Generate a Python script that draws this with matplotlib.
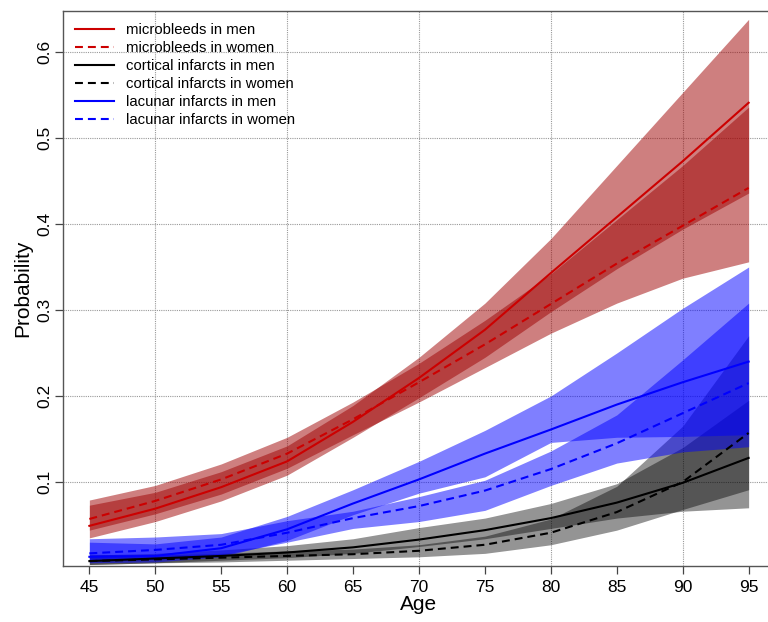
import matplotlib
matplotlib.use("Agg")
import matplotlib.pyplot as plt
import numpy as np

plt.rcParams['font.family'] = ['Liberation Sans', 'DejaVu Sans']

ages = [45, 50, 55, 60, 65, 70, 75, 80, 85, 90, 95]

# microbleeds
mb_men = [0.049, 0.069, 0.094, 0.124, 0.170, 0.221, 0.277, 0.343, 0.408, 0.473, 0.541]
mb_men_lo = [0.035, 0.054, 0.078, 0.108, 0.152, 0.198, 0.245, 0.298, 0.348, 0.394, 0.436]
mb_men_hi = [0.073, 0.088, 0.112, 0.142, 0.189, 0.245, 0.308, 0.383, 0.468, 0.553, 0.638]
mb_women = [0.057, 0.078, 0.103, 0.133, 0.173, 0.216, 0.260, 0.307, 0.354, 0.398, 0.442]
mb_women_lo = [0.044, 0.063, 0.086, 0.116, 0.155, 0.193, 0.233, 0.273, 0.308, 0.337, 0.356]
mb_women_hi = [0.079, 0.096, 0.121, 0.152, 0.193, 0.238, 0.288, 0.342, 0.405, 0.468, 0.536]

# cortical infarcts
ci_men = [0.008, 0.011, 0.014, 0.018, 0.024, 0.033, 0.044, 0.058, 0.076, 0.099, 0.128]
ci_men_lo = [0.004, 0.006, 0.009, 0.012, 0.017, 0.025, 0.034, 0.046, 0.058, 0.066, 0.070]
ci_men_hi = [0.015, 0.017, 0.021, 0.026, 0.034, 0.047, 0.058, 0.075, 0.098, 0.140, 0.195]
ci_women = [0.008, 0.010, 0.012, 0.014, 0.016, 0.020, 0.027, 0.041, 0.065, 0.100, 0.157]
ci_women_lo = [0.004, 0.006, 0.007, 0.009, 0.011, 0.013, 0.017, 0.027, 0.044, 0.068, 0.091]
ci_women_hi = [0.016, 0.015, 0.017, 0.020, 0.022, 0.027, 0.037, 0.057, 0.095, 0.165, 0.270]

# lacunar infarcts
li_men = [0.013, 0.014, 0.023, 0.045, 0.075, 0.103, 0.133, 0.161, 0.190, 0.216, 0.240]
li_men_lo = [0.006, 0.007, 0.013, 0.032, 0.062, 0.087, 0.106, 0.146, 0.152, 0.153, 0.155]
li_men_hi = [0.030, 0.028, 0.036, 0.060, 0.091, 0.124, 0.160, 0.200, 0.250, 0.302, 0.350]
li_women = [0.017, 0.021, 0.027, 0.041, 0.058, 0.072, 0.090, 0.115, 0.145, 0.180, 0.215]
li_women_lo = [0.008, 0.010, 0.015, 0.030, 0.046, 0.054, 0.067, 0.096, 0.122, 0.135, 0.141]
li_women_hi = [0.034, 0.036, 0.040, 0.055, 0.066, 0.083, 0.102, 0.136, 0.178, 0.242, 0.308]

labels = ["microbleeds in men", "microbleeds in women",
          "cortical infarcts in men", "cortical infarcts in women",
          "lacunar infarcts in men", "lacunar infarcts in women"]

x_ticks = [45, 50, 55, 60, 65, 70, 75, 80, 85, 90, 95]
y_ticks = [0.1, 0.2, 0.3, 0.4, 0.5, 0.6]
grid_x = [50, 60, 70, 80, 90]
grid_y = [0.1, 0.2, 0.3, 0.4, 0.5, 0.6]

fig = plt.figure(figsize=(7.68, 6.22), dpi=100)
ax = fig.add_axes([63/768, 1 - 566/622, (775 - 63)/768, (566 - 11)/622])

red_fill = (0.62, 0.0, 0.0)
blue_fill = (0.0, 0.0, 1.0)
black_fill = (0.0, 0.0, 0.0)

for gx in grid_x:
    ax.axvline(gx, color='#999999', lw=0.8, ls=(0, (1, 1)), zorder=0)
for gy in grid_y:
    ax.axhline(gy, color='#999999', lw=0.8, ls=(0, (1, 1)), zorder=0)

ax.fill_between(ages, mb_men_lo, mb_men_hi, color=red_fill, alpha=0.5, lw=0)
ax.fill_between(ages, mb_women_lo, mb_women_hi, color=red_fill, alpha=0.5, lw=0)
ax.fill_between(ages, ci_men_lo, ci_men_hi, color=black_fill, alpha=0.42, lw=0)
ax.fill_between(ages, ci_women_lo, ci_women_hi, color=black_fill, alpha=0.42, lw=0)
ax.fill_between(ages, li_men_lo, li_men_hi, color=blue_fill, alpha=0.5, lw=0)
ax.fill_between(ages, li_women_lo, li_women_hi, color=blue_fill, alpha=0.5, lw=0)

dash = (0, (3.8, 2.4))
lw = 1.5
ax.plot(ages, mb_men, color='#cc0000', lw=lw, label=labels[0])
ax.plot(ages, mb_women, color='#cc0000', lw=lw, ls=dash, label=labels[1])
ax.plot(ages, ci_men, color='black', lw=lw, label=labels[2])
ax.plot(ages, ci_women, color='black', lw=lw, ls=dash, label=labels[3])
ax.plot(ages, li_men, color='#0000ff', lw=lw, label=labels[4])
ax.plot(ages, li_women, color='#0000ff', lw=lw, ls=dash, label=labels[5])

ax.set_xlim(43, 97)
ax.set_ylim(0.0023, 0.6477)
ax.set_xticks(x_ticks)
ax.set_xticklabels([str(t) for t in x_ticks])
ax.set_yticks(y_ticks)
ax.set_yticklabels([str(t) for t in y_ticks], rotation=90, va='center')
ax.tick_params(axis='both', direction='out', length=6, width=0.9, color='#444444',
               labelsize=12.5, pad=4)
ax.tick_params(axis='y', pad=2)
for s in ax.spines.values():
    s.set_color('#555555')
    s.set_linewidth(1.0)

ax.set_xlabel("Age", fontsize=15, labelpad=0)
ax.set_ylabel("Probability", fontsize=15, labelpad=3)

leg = ax.legend(loc='upper left', bbox_to_anchor=(0.0, 1.0), frameon=False,
                fontsize=10.7, handlelength=2.6, handletextpad=0.85,
                labelspacing=0.27, borderaxespad=0.5, borderpad=0.3)

fig.savefig("out.png", dpi=100)
